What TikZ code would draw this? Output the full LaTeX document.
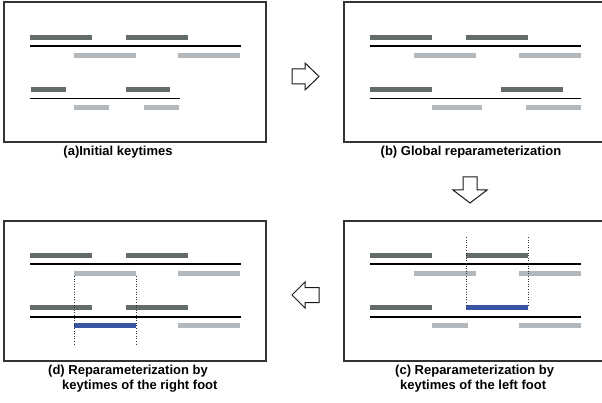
\documentclass[tikz,border=0pt]{standalone}
\usepackage{fontspec}
\setmainfont{Liberation Sans}
\definecolor{darkbar}{HTML}{646B6B}
\definecolor{lightbar}{HTML}{B3B8BD}
\definecolor{bluebar}{HTML}{3A54A3}
\definecolor{frame}{HTML}{333333}
\begin{document}
\begin{tikzpicture}[x=1pt,y=-1pt,
  panel/.style={draw=frame,line width=1.6pt},
  dbar/.style={fill=darkbar},
  lbar/.style={fill=lightbar},
  bbar/.style={fill=bluebar},
  tline/.style={draw=black,line width=1.4pt},
  guide/.style={draw=black!80,dotted,line width=0.6pt},
  flow/.style={draw=black!90,line width=1pt,fill=white,line join=miter},
  captext/.style={font=\fontsize{13}{15}\selectfont\bfseries,text=black,inner sep=0pt}]
\useasboundingbox (0,0) rectangle (602,403);

% ---------- panel (a)
\draw[panel] (4,2) rectangle (266,142);
\fill[dbar] (30,35) rectangle (92,40);
\fill[dbar] (126,35) rectangle (188,40);
\draw[tline] (30,46) -- (241,46);
\fill[lbar] (74,53) rectangle (136,58);
\fill[lbar] (178,53) rectangle (240,58);
\fill[dbar] (31,87) rectangle (66,92);
\fill[dbar] (126,87) rectangle (170,92);
\draw[tline] (30,98.5) -- (180,98.5);
\fill[lbar] (74,105) rectangle (109,110);
\fill[lbar] (144,105) rectangle (179,110);
\node[captext] (capa) at (118,152) {(a)Initial keytimes};

% ---------- panel (b)
\draw[panel] (344,2) rectangle (604,142);
\fill[dbar] (370,35) rectangle (432,40);
\fill[dbar] (466,35) rectangle (528,40);
\draw[tline] (370,46) -- (581,46);
\fill[lbar] (414,53) rectangle (476,58);
\fill[lbar] (519,53) rectangle (581,58);
\fill[dbar] (370,87) rectangle (432,92);
\fill[dbar] (501,87) rectangle (563,92);
\draw[tline] (370,98.5) -- (581,98.5);
\fill[lbar] (432,105) rectangle (482,110);
\fill[lbar] (526,105) rectangle (581,110);
\node[captext] (capb) at (471,152) {(b) Global reparameterization};

% ---------- panel (c)
\draw[panel] (344,221) rectangle (604,361);
\fill[dbar] (370,253) rectangle (432,258);
\fill[dbar] (466,253) rectangle (528,258);
\draw[tline] (370,264) -- (581,264);
\fill[lbar] (414,271) rectangle (476,276);
\fill[lbar] (519,271) rectangle (581,276);
\fill[dbar] (370,305) rectangle (432,310);
\fill[bbar] (466,305) rectangle (528,310);
\draw[tline] (370,317) -- (581,317);
\fill[lbar] (432,323) rectangle (468,328);
\fill[lbar] (519,323) rectangle (581,328);
\draw[guide] (466,237) -- (466,305);
\draw[guide] (528,237) -- (528,305);
\node[captext,align=left,anchor=west] (capc) at (395,378.5)
  {(c) Reparameterization by\\\hspace*{5pt}keytimes of the left foot};

% ---------- panel (d)
\draw[panel] (4,221) rectangle (266,361);
\fill[dbar] (30,253) rectangle (92,258);
\fill[dbar] (126,253) rectangle (188,258);
\draw[tline] (30,264) -- (241,264);
\fill[lbar] (74,271) rectangle (136,276);
\fill[lbar] (178,271) rectangle (240,276);
\fill[dbar] (30,305) rectangle (92,310);
\fill[dbar] (126,305) rectangle (188,310);
\draw[tline] (30,317) -- (241,317);
\fill[bbar] (74,323) rectangle (136,328);
\fill[lbar] (178,323) rectangle (240,328);
\draw[guide] (74,276) -- (74,344);
\draw[guide] (136,276) -- (136,344);
\node[captext,align=left,anchor=west] (capd) at (48,378.5)
  {(d) Reparameterization by\\\hspace*{14pt}keytimes of the right foot};

% ---------- flow arrows
\draw[flow] (292,69) -- (305,69) -- (305,63) -- (319,76.5) -- (305,90) -- (305,84) -- (292,84) -- cycle;
\draw[flow] (463,177) -- (477,177) -- (477,190) -- (487,190) -- (470,203) -- (453,190) -- (463,190) -- cycle;
\draw[flow] (319,287.5) -- (305,287.5) -- (305,282) -- (292,295) -- (305,308) -- (305,302.5) -- (319,302.5) -- cycle;
\end{tikzpicture}
\end{document}
